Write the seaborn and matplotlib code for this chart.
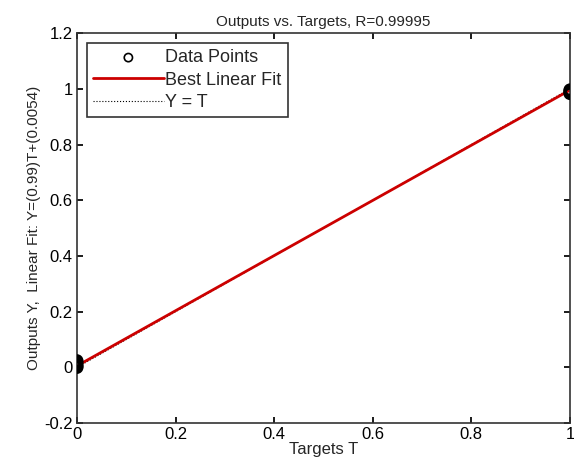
import numpy as np
import pandas as pd
import matplotlib.pyplot as plt
import seaborn as sns

# data points
targets = [0, 0, 0, 0, 0, 1, 1, 1, 1]
outputs = [0.0, 0.004, 0.01, 0.018, 0.024, 0.983, 0.988, 0.992, 0.996]
fit_slope = 0.99
fit_intercept = 0.0054
line_t = [0, 1]

sns.set_theme(style="white")
plt.rcParams['font.family'] = ['Arial', 'Liberation Sans', 'DejaVu Sans']

df = pd.DataFrame({"T": targets, "Y": outputs})
fit = pd.DataFrame({"T": line_t, "Y": [fit_slope * t + fit_intercept for t in line_t]})
ident = pd.DataFrame({"T": line_t, "Y": line_t})

fig = plt.figure(figsize=(5.74, 4.66), dpi=100)
ax = fig.add_axes([0.134, 0.092, 0.859, 0.837])

sns.scatterplot(data=df, x="T", y="Y", ax=ax, marker="o", s=55,
                facecolor="none", edgecolor="black", linewidth=2,
                label="Data Points", zorder=3)
sns.lineplot(data=fit, x="T", y="Y", ax=ax, color="#cc0000", linewidth=2,
             label="Best Linear Fit", zorder=2)
sns.lineplot(data=ident, x="T", y="Y", ax=ax, color="black", linewidth=0.8,
             linestyle=":", label="Y = T", zorder=1)

ax.set_xlim(0, 1)
ax.set_ylim(-0.2, 1.2)
ax.set_xticks(np.arange(0, 1.01, 0.2))
ax.set_xticklabels(["0", "0.2", "0.4", "0.6", "0.8", "1"])
ax.set_yticks(np.arange(-0.2, 1.21, 0.2))
ax.set_yticklabels(["-0.2", "0", "0.2", "0.4", "0.6", "0.8", "1", "1.2"])
ax.tick_params(direction="in", length=4, labelsize=12, colors="black",
               top=True, right=True, bottom=True, left=True, pad=3)
for s in ax.spines.values():
    s.set_color("#333333")
    s.set_linewidth(1.2)

ax.set_xlabel("Targets T", fontsize=12, labelpad=0)
ax.set_ylabel("Outputs Y,  Linear Fit: Y=(0.99)T+(0.0054)", fontsize=11, labelpad=2)
ax.set_title("Outputs vs. Targets, R=0.99995", fontsize=11, pad=5)

leg = ax.legend(loc="upper left", fontsize=13, frameon=True, fancybox=False,
                edgecolor="black", borderaxespad=0.55, handlelength=3.9,
                handletextpad=0.1, labelspacing=0.3, borderpad=0.35,
                markerscale=0.8)
leg.get_frame().set_linewidth(1.2)
leg.legend_handles[0].set_linewidth(1.2)

fig.savefig("out.png", dpi=100)
